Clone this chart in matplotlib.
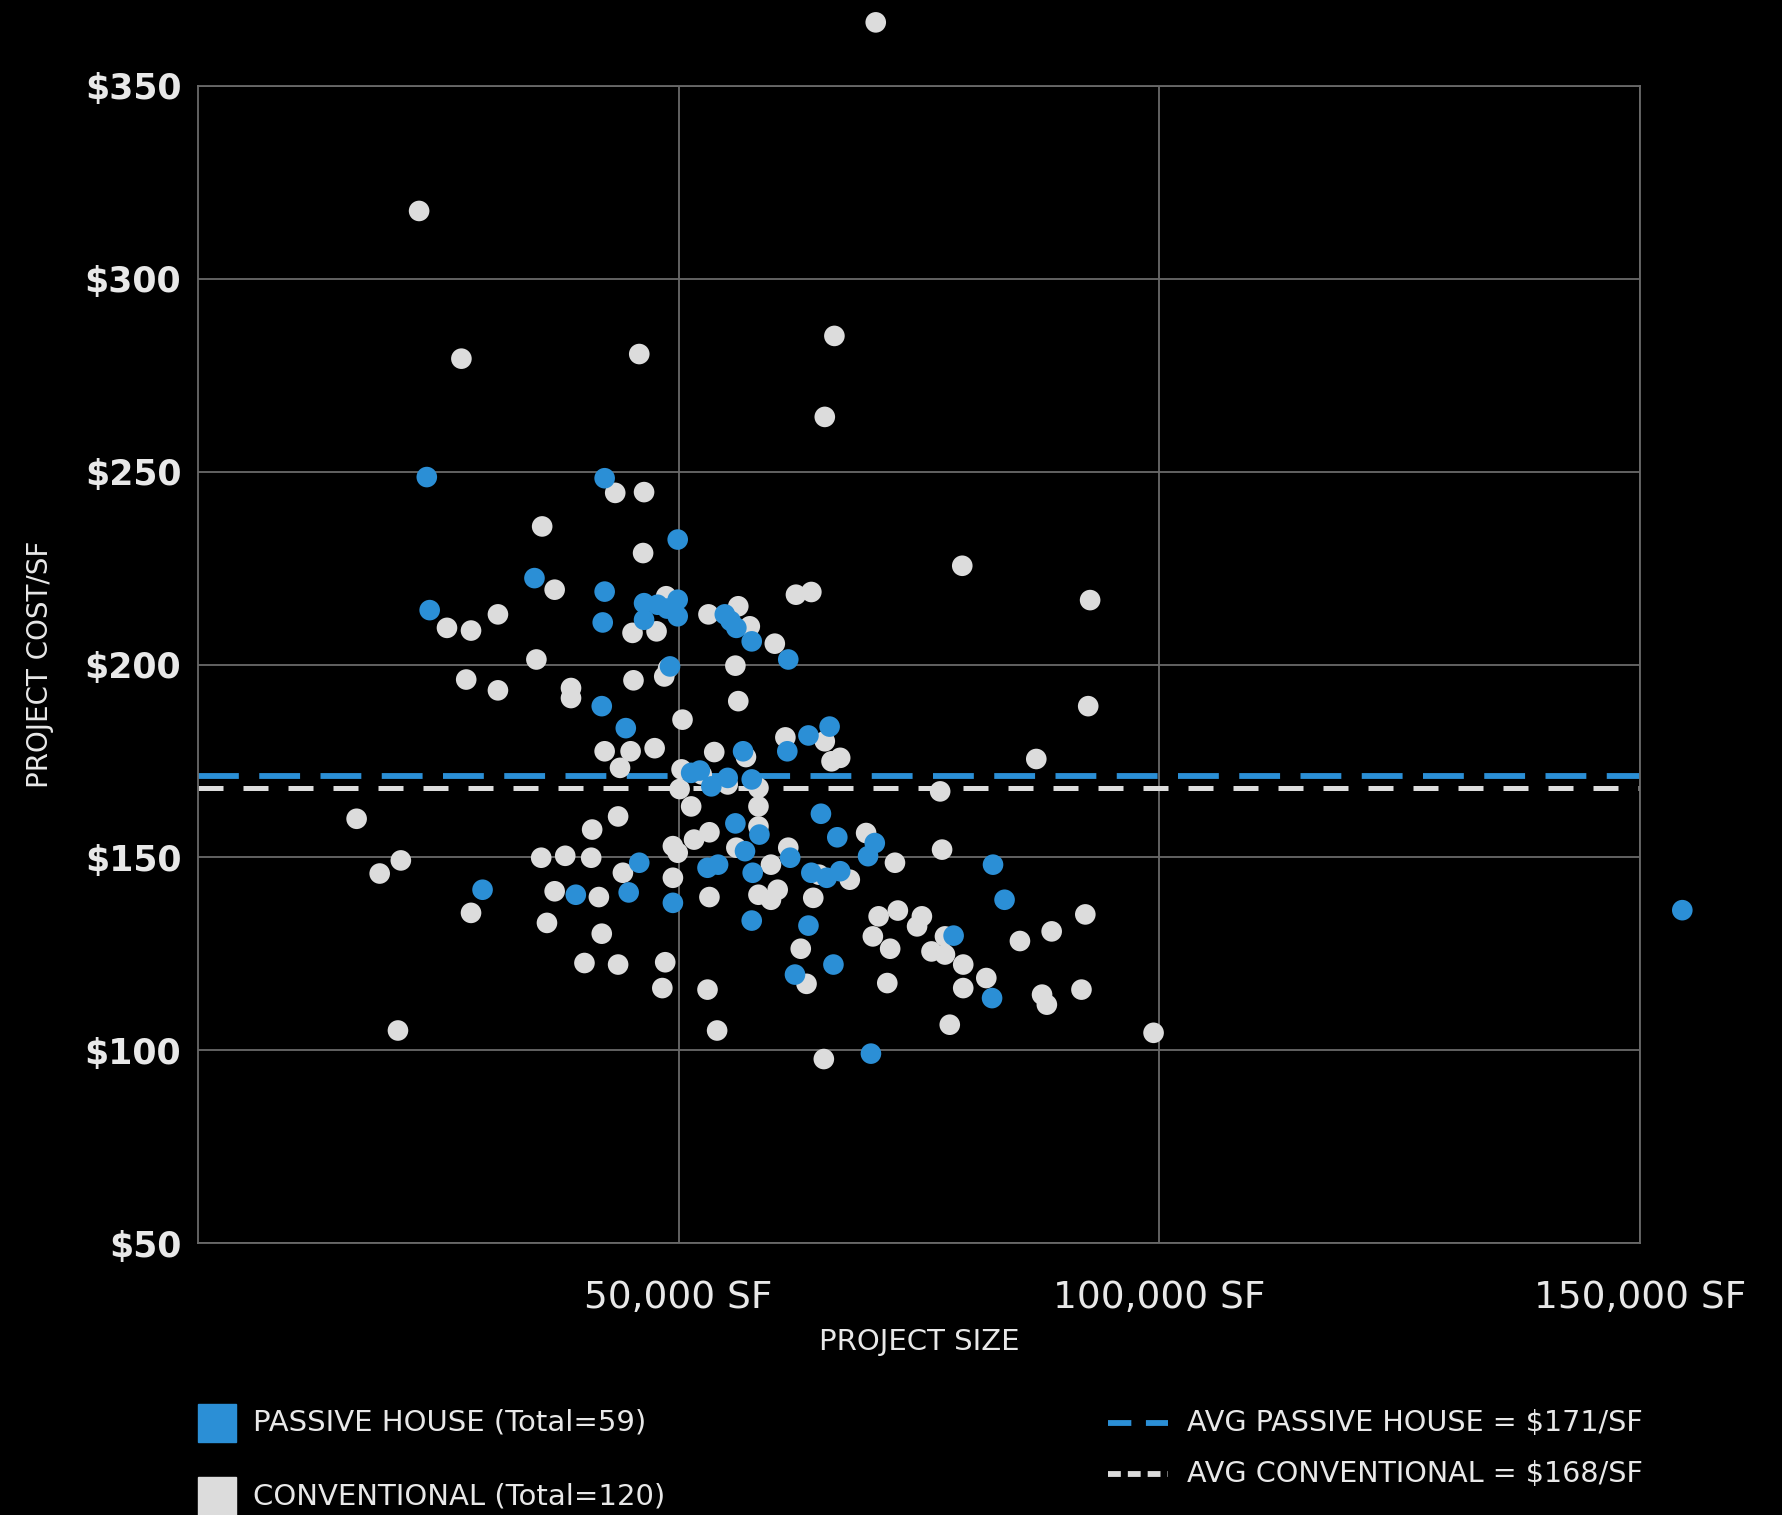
import matplotlib
matplotlib.use("Agg")
import matplotlib.pyplot as plt
from matplotlib.lines import Line2D
from matplotlib.patches import Rectangle

# ---------------- data (project size in SF, cost in $/SF) ----------------
passive_size_k = [23.8, 24.1, 29.6, 35.0, 39.3, 42.3, 42.3, 42.1, 42.0, 44.5,
                  44.8, 45.9, 49.9, 49.1, 49.4, 46.4, 47.8, 49.9, 49.9, 46.4,
                  54.8, 56.0, 57.6, 61.4, 65.7, 63.5, 61.3, 56.7, 51.3, 53.4,
                  55.1, 57.6, 64.8, 55.9, 58.4, 66.5, 70.4, 69.7, 56.9, 53.0,
                  54.1, 61.6, 82.7, 57.7, 63.8, 65.4, 66.8, 83.9, 57.6, 78.6,
                  63.5, 66.1, 62.1, 82.6, 70.0, 154.4, 48.8, 55.4, 52.2]
passive_cost = [248.6, 214.1, 141.6, 222.4, 140.3, 248.3, 218.9, 210.9, 189.2, 183.5,
                140.9, 148.6, 232.4, 199.5, 138.2, 215.9, 215.5, 216.8, 212.5, 211.6,
                213.0, 209.5, 206.0, 201.3, 183.9, 181.6, 177.5, 177.5, 171.9, 168.4,
                170.6, 170.2, 161.3, 158.8, 155.9, 155.2, 153.7, 150.3, 151.6, 147.3,
                148.1, 149.9, 148.1, 146.0, 146.0, 144.7, 146.4, 139.0, 133.6, 129.7,
                132.3, 122.2, 119.6, 113.5, 99.1, 136.3, 214.5, 211.3, 172.5]

conv_size_k = [43.4, 46.4, 35.8, 46.3, 37.1, 25.9, 28.4, 31.2, 48.7, 45.2,
               47.7, 53.1, 35.2, 48.5, 45.3, 27.9, 31.2, 38.8, 38.8, 50.4,
               79.5, 92.8, 62.2, 63.8, 56.2, 57.4, 60.0, 55.9, 56.2, 92.6,
               42.3, 45.0, 47.5, 53.7, 43.9, 50.3, 51.3, 16.5, 43.7, 41.0,
               53.2, 51.6, 49.4, 49.9, 21.1, 18.9, 35.7, 38.2, 40.9, 44.2,
               49.4, 37.1, 41.7, 53.2, 28.4, 36.3, 42.0, 40.2, 43.7, 48.6,
               48.3, 53.0, 20.8, 54.0, 61.1, 65.2, 65.9, 66.8, 87.2, 58.3,
               58.3, 77.2, 58.3, 69.5, 77.4, 59.6, 61.4, 72.5, 67.8, 60.3,
               58.3, 59.6, 64.0, 70.8, 72.8, 75.3, 74.8, 92.3, 88.8, 85.5,
               77.7, 70.2, 72.0, 76.3, 77.7, 79.6, 82.0, 62.7, 63.3, 71.7,
               79.6, 87.8, 88.3, 91.9, 65.1, 78.2, 99.4, 23.0, 27.4, 45.9,
               66.2, 65.2, 70.5, 50.1, 55.1, 52.4, 57.0, 64.6, 56.0, 48.9]
conv_cost = [244.5, 244.7, 235.8, 228.9, 219.4, 209.5, 208.8, 213.0, 217.7, 208.2,
             208.6, 213.0, 201.3, 196.9, 195.9, 196.1, 193.3, 193.9, 191.3, 185.7,
             225.6, 216.7, 218.1, 218.8, 215.1, 209.9, 205.4, 199.7, 190.5, 189.2,
             177.5, 177.5, 178.3, 177.3, 173.2, 172.8, 163.2, 160.0, 160.6, 157.2,
             156.5, 154.6, 152.9, 151.2, 149.2, 145.8, 149.9, 150.4, 149.9, 146.0,
             144.7, 141.2, 139.7, 139.7, 135.6, 133.0, 130.2, 122.6, 122.2, 122.8,
             116.1, 115.7, 105.1, 105.1, 181.1, 180.1, 174.9, 175.8, 175.5, 168.0,
             163.2, 167.1, 158.0, 156.3, 152.0, 148.1, 152.5, 148.6, 144.2, 141.6,
             140.3, 139.0, 139.5, 134.7, 136.2, 134.7, 132.1, 135.2, 130.8, 128.3,
             129.5, 129.5, 126.3, 125.6, 124.8, 122.2, 118.7, 126.3, 117.2, 117.4,
             116.1, 114.4, 111.8, 115.7, 97.7, 106.6, 104.5, 317.6, 279.3, 280.5,
             285.2, 264.2, 366.5, 167.7, 168.9, 171.5, 176.0, 145.5, 152.5, 199.0]

avg_passive = 171
avg_conv = 168

x_ticks = [50000, 100000, 150000]
x_tick_labels = ["50,000 SF", "100,000 SF", "150,000 SF"]
y_ticks = [50, 100, 150, 200, 250, 300, 350]
y_tick_labels = ["$50", "$100", "$150", "$200", "$250", "$300", "$350"]

legend_series = ["PASSIVE HOUSE (Total=59)", "CONVENTIONAL (Total=120)"]
legend_avgs = ["AVG PASSIVE HOUSE = $171/SF", "AVG CONVENTIONAL = $168/SF"]

# ---------------- style ----------------
BLUE = "#2b8fd6"
GREY = "#dcdcdc"
GRID = "#6a6a6a"
TXT = "#e8e8e8"
FONT = "DejaVu Sans"

W, H = 1782, 1515
fig = plt.figure(figsize=(W / 100, H / 100), dpi=100, facecolor="black")
ax = fig.add_axes([198 / W, 1 - 1243 / H, (1640 - 198) / W, (1243 - 86) / H])
ax.set_facecolor("black")

ax.set_xlim(0, 150000)
ax.set_ylim(50, 350)

ax.set_xticks(x_ticks)
ax.set_xticklabels(x_tick_labels, fontsize=27, color=TXT, family=FONT)
ax.set_yticks(y_ticks)
ax.set_yticklabels(y_tick_labels, fontsize=25, color=TXT, fontweight="bold",
                   family=FONT)
ax.tick_params(axis="x", length=0, pad=27)
ax.tick_params(axis="y", length=0, pad=12)
ax.grid(True, color=GRID, linewidth=1.3)
ax.set_axisbelow(True)
for sp in ax.spines.values():
    sp.set_color(GRID)
    sp.set_linewidth(1.3)

ax.set_xlabel("PROJECT SIZE", fontsize=21, color=TXT, family=FONT, labelpad=8)
ax.set_ylabel("PROJECT COST/SF", fontsize=20, color=TXT, family=FONT, labelpad=22)

# average lines
ax.axhline(avg_passive, color=BLUE, linewidth=4.2, dashes=(7, 3.5), zorder=2)
ax.axhline(avg_conv, color=GREY, linewidth=3.6, dashes=(5, 4), zorder=2)

# points
conv_size = [v * 1000 for v in conv_size_k]
passive_size = [v * 1000 for v in passive_size_k]
ax.scatter(conv_size, conv_cost, s=220, color=GREY, edgecolors="none",
           zorder=3, clip_on=False)
ax.scatter(passive_size, passive_cost, s=220, color=BLUE, edgecolors="none",
           zorder=4, clip_on=False)

# ---------------- legend (figure-level) ----------------
def fx(px):
    return px / W

def fy(py):
    return 1 - py / H

sq = 38
for (col, cy, label) in [(BLUE, 1423, legend_series[0]), (GREY, 1496, legend_series[1])]:
    fig.patches.append(Rectangle((fx(198), fy(cy + sq / 2)), sq / W, sq / H,
                                 transform=fig.transFigure, color=col))
    fig.text(fx(253), fy(cy), label, color=TXT, fontsize=21, family=FONT,
             va="center", ha="left")

for (col, cy, label, lw, dsh) in [(BLUE, 1423, legend_avgs[0], 4.2, (4, 2.5)),
                                   (GREY, 1474, legend_avgs[1], 4.2, (2.2, 1.2))]:
    fig.lines.append(Line2D([fx(1108), fx(1168)], [fy(cy), fy(cy)],
                            transform=fig.transFigure, color=col, linewidth=lw,
                            dashes=dsh))
    fig.text(fx(1187), fy(cy), label, color=TXT, fontsize=20.6, family=FONT,
             va="center", ha="left")

fig.savefig("out.png", dpi=100, facecolor="black")
